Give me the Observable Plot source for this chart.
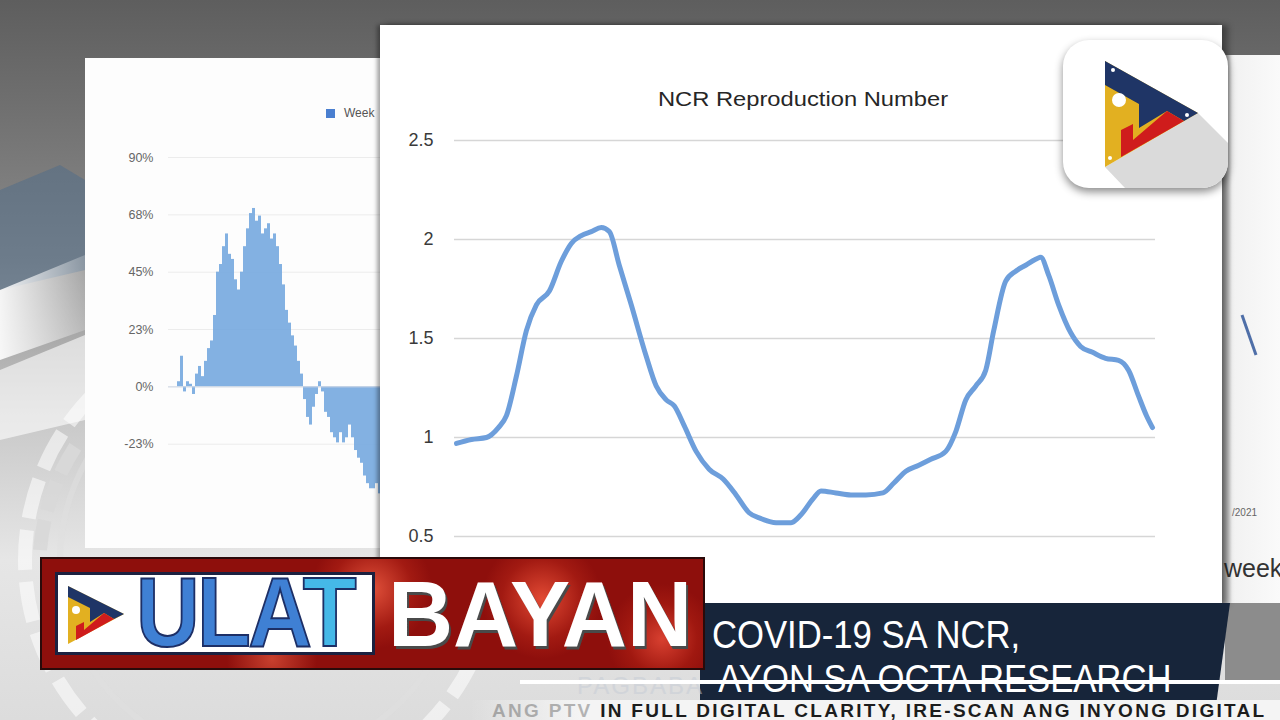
<!DOCTYPE html>
<html>
<head>
<meta charset="utf-8">
<script src="https://cdn.jsdelivr.net/npm/d3@7"></script>
<script src="https://cdn.jsdelivr.net/npm/@observablehq/plot@0.6"></script>
<style>
  html,body{margin:0;padding:0;}
  body{width:1280px;height:720px;overflow:hidden;position:relative;font-family:"Liberation Sans",Arial,sans-serif;
    background:linear-gradient(180deg,#5e5e5e 0px,#727272 120px,#8c8c8c 260px,#c9c9c9 420px,#e6e6e6 560px,#dcdcdc 720px);}
  .abs{position:absolute;}
  svg{max-width:none !important;}
</style>
</head>
<body>
<!-- background decorations -->
<svg class="abs" style="left:0;top:0" width="1280" height="720">
  <defs>
    <linearGradient id="bandg" x1="0" y1="0" x2="1" y2="0">
      <stop offset="0" stop-color="#ffffff" stop-opacity="0.9"/>
      <stop offset="1" stop-color="#ffffff" stop-opacity="0.2"/>
    </linearGradient>
  </defs>
  <path d="M0,190 L60,165 L85,180 L85,270 L0,290 Z" fill="#4d6b8a" opacity="0.5"/>
  <path d="M0,290 L85,255 L85,330 L0,360 Z" fill="url(#bandg)"/>
  <path d="M0,370 L85,335 L85,420 L0,440 Z" fill="#ffffff" opacity="0.6"/>
  <circle cx="260" cy="560" r="235" fill="none" stroke="#ffffff" stroke-opacity="0.55" stroke-width="14" stroke-dasharray="40 12"/>
  <circle cx="260" cy="560" r="200" fill="none" stroke="#e0e0e0" stroke-opacity="0.5" stroke-width="6"/>
  <rect x="1225" y="600" width="55" height="80" fill="#8c8c8c"/>
</svg>

<!-- left background chart panel -->
<div class="abs" id="leftPanel" style="left:85px;top:58px;width:300px;height:490px;background:#fdfdfd;overflow:hidden;">
  <div class="abs" style="left:241px;top:51px;width:9px;height:9px;background:#4a7fd0;"></div>
  <div class="abs" style="left:259px;top:48px;font-size:12px;color:#555;">Week</div>
</div>
<svg class="abs" style="left:0;top:380px;pointer-events:none" width="390" height="180">
  <path d="M40,170 A225,225 0 0 1 80,60" fill="none" stroke="#d8d8d8" stroke-width="14" stroke-dasharray="30 10" opacity="0.9"/>
</svg>

<!-- right background panel -->
<div class="abs" style="left:1222px;top:55px;width:58px;height:548px;background:linear-gradient(90deg,#9a9a9a 0px,#f2f2f2 10px,#fafafa 58px);">
  <svg class="abs" style="left:0;top:0" width="58" height="548"><path d="M20,260 L34,300" stroke="#4f6fa8" stroke-width="3" fill="none"/></svg>
  <div class="abs" style="left:10px;top:452px;font-size:10px;color:#666;">/2021</div>
  <div class="abs" style="left:2px;top:499px;font-size:25px;color:#333;">week</div>
</div>

<!-- main card -->
<div class="abs" id="mainCard" style="left:380px;top:25px;width:842px;height:580px;background:#ffffff;box-shadow:-3px 0 4px rgba(0,0,0,0.35), 6px 0 6px rgba(0,0,0,0.35);">
  <div class="abs" style="left:0;top:62px;width:846px;text-align:center;font-size:21px;color:#262626;transform:scaleX(1.13);transform-origin:423px 0;">NCR Reproduction Number</div>
</div>

<!-- logo -->
<div class="abs" style="left:1063px;top:40px;width:165px;height:148px;background:#fff;border-radius:26px;box-shadow:0 4px 8px rgba(0,0,0,0.45);overflow:hidden;">
  <svg width="165" height="148">
    <path d="M135,73 L170,108 L170,148 L62,148 L42,127 Z" fill="#dadada"/>
    <path d="M42,21 L135,73 L42,127 Z" fill="#e2b021"/>
    <path d="M42,21 L135,73 L121,81 L104,71 L76,88 L76,64 L42,45 Z" fill="#1f3566"/>
    <path d="M104,71 L121,81 L58,117 L58,90 L70,84 L70,100 Z" fill="#cf1c1c"/>
    <circle cx="56" cy="60" r="7" fill="#fff"/>
    <circle cx="50" cy="30" r="2" fill="#fff"/><circle cx="124" cy="75" r="2" fill="#fff"/><circle cx="47" cy="118" r="2" fill="#fff"/>
  </svg>
</div>

<!-- lower third -->
<div class="abs" style="left:700px;top:603px;width:530px;height:97px;background:#17253a;clip-path:polygon(0 0,100% 0,97.5% 100%,0 100%);"></div>
<div class="abs" style="left:712px;top:613px;font-size:38.5px;line-height:43.5px;color:#fff;transform:scaleX(0.9);transform-origin:0 0;white-space:nowrap;">COVID-19 SA NCR,<br><span style="padding-left:7px;">AYON SA OCTA RESEARCH</span></div>
<div class="abs" style="left:492px;top:672px;width:212px;text-align:right;font-size:24px;line-height:27px;color:#c5ccd6;opacity:0.5;white-space:nowrap;letter-spacing:2px;">PAGBABA</div>
<div class="abs" style="left:520px;top:680px;width:760px;height:4px;background:#ffffff;"></div>
<div class="abs" style="left:470px;top:700px;width:810px;height:20px;background:linear-gradient(90deg,rgba(255,255,255,0) 0px,#f4f4f4 110px,#f4f4f4 100%);"></div>
<div class="abs" style="left:492px;top:701px;font-size:19px;line-height:19px;font-weight:bold;color:#1c1c1c;white-space:nowrap;letter-spacing:2.3px;"><span style="opacity:0.3">ANG PTV </span>IN FULL DIGITAL CLARITY, IRE-SCAN ANG INYONG DIGITAL</div>

<div class="abs" style="left:40px;top:557px;width:665px;height:113px;background:radial-gradient(circle at 330px 30px,#e0503a 0,#a21a12 40px,transparent 60px),radial-gradient(circle at 500px 40px,#e24a34 0,#a21a12 40px,transparent 60px),radial-gradient(circle at 620px 80px,#d84030 0,#a01810 35px,transparent 55px),radial-gradient(circle at 230px 100px,#c8402e 0,transparent 45px),#8e0f0c;border:2px solid #2a0a0a;box-sizing:border-box;"></div>
<div class="abs" style="left:55px;top:572px;width:320px;height:83px;background:#fff;border:3px solid #1c2140;box-sizing:border-box;"></div>
<svg class="abs" style="left:62px;top:582px" width="70" height="66">
  <path d="M6,4 L62,32 L6,62 Z" fill="#e2b021"/>
  <path d="M6,4 L62,32 L52,37 L42,31 L28,40 L28,26 L6,15 Z" fill="#1f3566"/>
  <path d="M42,31 L52,37 L14,58 L14,44 L22,40 L22,48 Z" fill="#cf1c1c"/>
  <circle cx="14" cy="28" r="4" fill="#fff"/>
</svg>
<div class="abs" style="left:136px;top:570px;font-size:98px;line-height:84px;font-weight:bold;color:#3f80d4;-webkit-text-stroke:2px #1d2f66;transform:scaleX(0.9);transform-origin:0 0;letter-spacing:-3px;white-space:nowrap;">ULA<span style="color:#45b8e8">T</span></div>
<div class="abs" style="left:388px;top:574px;font-size:92px;line-height:80px;font-weight:bold;color:#ffffff;text-shadow:2px 3px 0 #4a4a4a;transform:scaleX(0.98);transform-origin:0 0;white-space:nowrap;">BAYAN</div>

<script>
// ---------- main chart data: NCR reproduction number ----------
const rDay = [0,15,30,42,50,60,70,80,93,105,115,125,135,145,153,163,175,190,200,210,218,228,240,253,267,280,293,305,320,335,345,357,365,380,395,410,427,438,450,463,475,490,500,510,520,530,538,550,560,570,580,585,593,603,615,625,637,650,663,673,683,691,697];
const rValue = [0.97,0.99,1.00,1.05,1.11,1.31,1.54,1.67,1.74,1.89,1.98,2.02,2.04,2.06,2.04,1.87,1.67,1.41,1.26,1.19,1.16,1.06,0.93,0.84,0.79,0.71,0.62,0.59,0.57,0.57,0.61,0.69,0.73,0.72,0.71,0.71,0.72,0.77,0.83,0.86,0.89,0.93,1.03,1.19,1.26,1.34,1.54,1.79,1.84,1.87,1.90,1.91,1.82,1.67,1.53,1.46,1.43,1.40,1.39,1.34,1.21,1.11,1.05];
const rTicks = [0.5,1,1.5,2,2.5];
const rTickLabels = ["0.5","1","1.5","2","2.5"];

// ---------- background chart data: weekly change (%) ----------
const wkChange = [2,12,-2,2,1,-3,5,8,4,10,15,18,28,45,48,55,60,52,50,42,38,45,55,62,68,70,65,67,60,62,64,58,60,55,48,40,30,25,20,16,10,5,-5,-12,-15,-8,-3,2,-2,-10,-12,-18,-20,-22,-18,-22,-20,-15,-20,-25,-28,-30,-35,-38,-40,-40,-38,-42];
const wkTicks = [-22.5,0,22.5,45,67.5,90];
const wkTickLabels = ["-23%","0%","23%","45%","68%","90%"];

const rData = rDay.map((d,i)=>({day:d, r:rValue[i]}));
const wkData = wkChange.map((v,i)=>({i, v}));

const main = Plot.plot({
  width: 842, height: 580,
  marginLeft: 74, marginRight: 67, marginTop: 115, marginBottom: 69,
  style: {background:"transparent", fontFamily:"Liberation Sans, Arial, sans-serif"},
  x: {domain:[-2, 700], axis:null},
  y: {domain:[0.5, 2.5], axis:null},
  marks: [
    Plot.gridY(rTicks, {stroke:"#d6d6d6", strokeOpacity:1, strokeWidth:1.5}),
    Plot.axisY(rTicks, {label:null, tickSize:0, tickPadding:21, fontSize:18, fill:"#3a3a3a", tickFormat:(d,i)=>rTickLabels[i]}),
    Plot.line(rData, {x:"day", y:"r", stroke:"#6d9edb", strokeWidth:5, curve:"monotone-x", strokeLinejoin:"round", strokeLinecap:"round"})
  ]
});
main.style.position = "absolute"; main.style.left = "0px"; main.style.top = "0px"; main.style.maxWidth = "none";
document.getElementById("mainCard").appendChild(main);

const left = Plot.plot({
  width: 340, height: 490,
  marginLeft: 83, marginRight: 35, marginTop: 99, marginBottom: 47,
  style: {background:"transparent", fontFamily:"Liberation Sans, Arial, sans-serif"},
  x: {type:"band", domain:d3.range(wkChange.length), axis:null, paddingInner:0.05},
  y: {domain:[-45, 90], axis:null},
  marks: [
    Plot.gridY(wkTicks, {stroke:"#ececec", strokeOpacity:1}),
    Plot.axisY(wkTicks, {label:null, tickSize:0, tickPadding:15, fontSize:12.5, fill:"#666", tickFormat:(d,i)=>wkTickLabels[i]}),
    Plot.barY(wkData, {x:"i", y:"v", fill:"#75a8df", fillOpacity:0.9}),
    Plot.ruleY([0], {stroke:"#cfd8e6"})
  ]
});
left.style.position = "absolute"; left.style.left = "0px"; left.style.top = "0px"; left.style.maxWidth = "none";
document.getElementById("leftPanel").appendChild(left);
</script>
</body>
</html>
